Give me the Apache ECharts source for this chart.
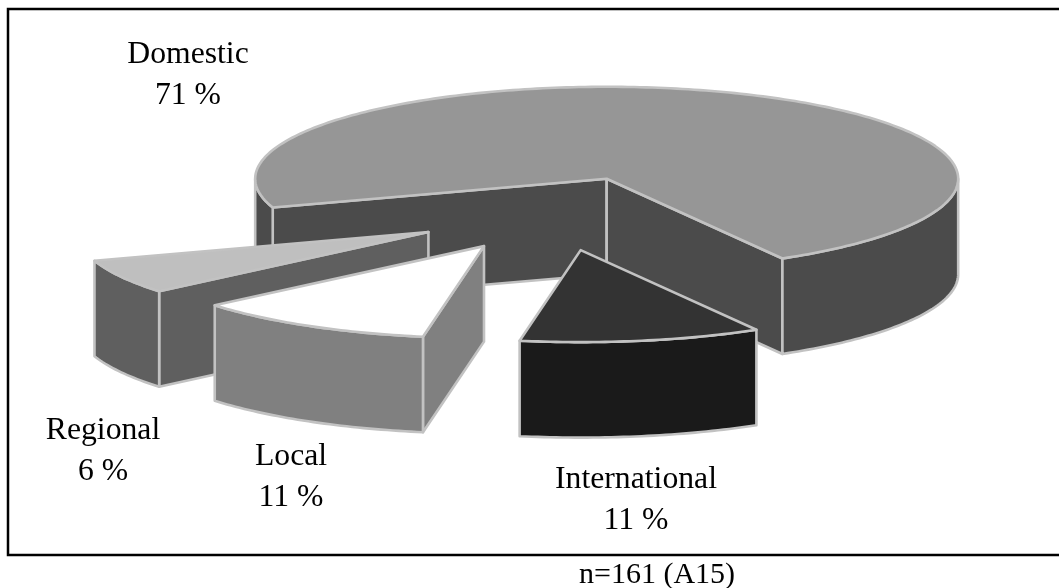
<!DOCTYPE html>
<html>
<head>
<meta charset="utf-8">
<style>html,body{margin:0;padding:0;background:#fff}#c{width:1059px;height:588px}</style>
<script src="https://cdn.jsdelivr.net/npm/echarts@6/dist/echarts.min.js"></script>
</head>
<body>
<div id="c"></div>
<script>
// Data, in paint order (back to front), running anticlockwise round the pie
const categories = ['Domestic', 'Regional', 'Local', 'International'];
const shares = [71, 6, 11, 11];
const caption = 'n=161 (A15)';

// Styles and layout, kept apart from the data
const topColors  = ['#969696', '#bfbfbf', '#ffffff', '#333333'];
const sideColors = ['#4b4b4b', '#5f5f5f', '#808080', '#1a1a1a'];
const explodes   = [142, 146, 144, 142];
const labelCentres = [[188, 55], [103, 431], [291, 457], [636, 480]];
const EDGE = '#c2c2c2', FONT = '"Liberation Serif", "Times New Roman", serif', FONT_SIZE = 31.7, CAPTION_SIZE = 30;
const LINE_GAP = 41;
const CX = 556, CY = 213.5, RX = 351.5, RY = 92, DEPTH = 95.5, FIRST_END_DEG = 60;

const total = shares.reduce((a, b) => a + b, 0);
const rad = d => d * Math.PI / 180;

function sliceElements(i) {
  let end = FIRST_END_DEG;
  for (let k = 0; k < i; k++) end -= shares[k] / total * 360;
  const start = end - shares[i] / total * 360;
  const mid = (start + end) / 2;
  const ax = CX + explodes[i] * Math.cos(rad(mid));
  const ay = CY + explodes[i] * (RY / RX) * Math.sin(rad(mid));
  const pt = (t, dz) => [ax + RX * Math.cos(rad(t)), ay + RY * Math.sin(rad(t)) + (dz || 0)];
  const poly = (points, fill) => ({
    type: 'polygon',
    shape: { points },
    style: { fill, stroke: EDGE, lineWidth: 2.6, lineJoin: 'round' }
  });
  const arc = (a, b, dz) => {
    const out = [];
    const n = Math.max(2, Math.ceil(Math.abs(b - a)));
    for (let j = 0; j <= n; j++) out.push(pt(a + (b - a) * j / n, dz));
    return out;
  };
  const els = [];
  const side = sideColors[i];
  // Cut faces that look towards the viewer
  if (Math.cos(rad(start)) < 0) {
    els.push(poly([[ax, ay], pt(start), pt(start, DEPTH), [ax, ay + DEPTH]], side));
  }
  if (Math.cos(rad(end)) > 0) {
    els.push(poly([[ax, ay], pt(end), pt(end, DEPTH), [ax, ay + DEPTH]], side));
  }
  // Outer wall: only where the rim faces the viewer (sin t > 0)
  const cuts = [start];
  for (let m = Math.ceil(start / 180); m * 180 < end; m++) {
    if (m * 180 > start) cuts.push(m * 180);
  }
  cuts.push(end);
  for (let c = 0; c < cuts.length - 1; c++) {
    const a = cuts[c], b = cuts[c + 1];
    if (Math.sin(rad((a + b) / 2)) > 0) {
      els.push(poly(arc(a, b).concat(arc(b, a, DEPTH)), side));
    }
  }
  // Top face
  els.push(poly([[ax, ay]].concat(arc(start, end)), topColors[i]));
  return els;
}

function labelElements(i) {
  const [x, y] = labelCentres[i];
  const text = (s, yy) => ({
    type: 'text',
    z2: 100,
    style: { text: s, x, y: yy, fill: '#000', font: FONT_SIZE + 'px ' + FONT, textAlign: 'center', textVerticalAlign: 'middle' }
  });
  return [text(categories[i], y), text(shares[i] + ' %', y + LINE_GAP)];
}

const chart = echarts.init(document.getElementById('c'), null, { renderer: 'canvas' });
chart.setOption({
  animation: false,
  backgroundColor: '#ffffff',
  graphic: [
    { type: 'rect', z: 0, shape: { x: 8, y: 9, width: 1070, height: 546 },
      style: { fill: 'none', stroke: '#000', lineWidth: 2.5 } },
    { type: 'text', z: 10, style: { text: caption, x: 657, y: 575, fill: '#000',
      font: CAPTION_SIZE + 'px ' + FONT, textAlign: 'center', textVerticalAlign: 'middle' } }
  ],
  series: [{
    type: 'custom',
    coordinateSystem: 'none',
    silent: true,
    data: shares.map((v, i) => ({ name: categories[i], value: [v, i] })),
    renderItem: (params) => ({
      type: 'group',
      children: sliceElements(params.dataIndex).concat(labelElements(params.dataIndex))
    })
  }]
});
</script>
</body>
</html>
